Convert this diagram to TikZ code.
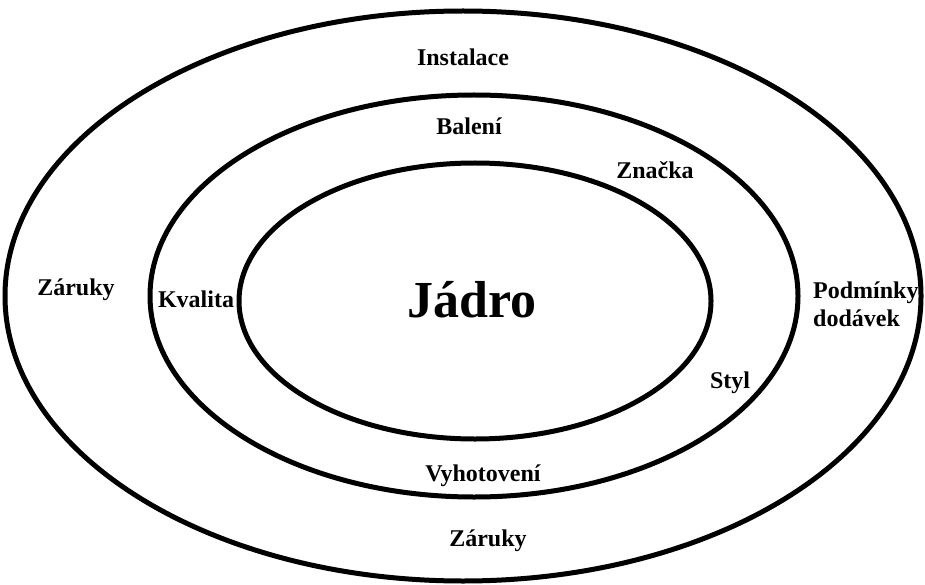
\documentclass[tikz,border=0pt]{standalone}
\usepackage{fontspec}
\setmainfont{Liberation Serif}
\begin{document}
\begin{tikzpicture}[x=1pt,y=-1pt,
  ring/.style={draw=black,line width=5pt},
  lbl/.style={font=\fontsize{24}{28}\selectfont\bfseries,inner sep=0pt}]
\useasboundingbox (0,0) rectangle (925,585);
\draw[ring] (463,296) ellipse [x radius=458,y radius=285];
\draw[ring] (474,296) ellipse [x radius=324,y radius=201];
\draw[ring] (475,301) ellipse [x radius=236,y radius=138];
\node[lbl] (instalace) at (463,57) {Instalace};
\node[lbl] (baleni) at (469,126) {Balení};
\node[lbl] (znacka) at (655,170) {Značka};
\node[lbl] (zarukyL) at (76,290) {Záruky};
\node[lbl] (kvalita) at (196,299) {Kvalita};
\node[font=\fontsize{52}{56}\selectfont\bfseries,inner sep=0pt] (jadro) at (472,300) {Jádro};
\node[lbl,anchor=west,align=left] (podminky) at (813,304) {Podmínky\\dodávek};
\node[lbl] (styl) at (730,383) {Styl};
\node[lbl] (vyhotoveni) at (483,476) {Vyhotovení};
\node[lbl] (zarukyB) at (488,541) {Záruky};
\end{tikzpicture}
\end{document}
